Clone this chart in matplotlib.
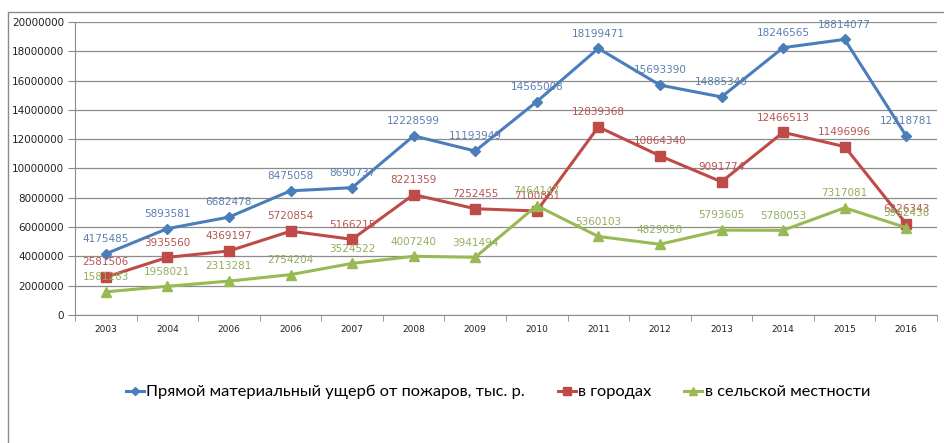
import numpy as np
import matplotlib
matplotlib.use("Agg")
import matplotlib.pyplot as plt
from matplotlib.lines import Line2D

# years as printed on the axis (2006 appears twice in the source table)
years = ["2003", "2004", "2006", "2006", "2007", "2008", "2009", "2010",
         "2011", "2012", "2013", "2014", "2015", "2016"]

total = [4175485, 5893581, 6682478, 8475058, 8690737, 12228599, 11193949,
         14565008, 18199471, 15693390, 14885340, 18246565, 18814077, 12218781]
cities = [2581506, 3935560, 4369197, 5720854, 5166215, 8221359, 7252455,
          7100861, 12839368, 10864340, 9091774, 12466513, 11496996, 6226343]
rural = [1581283, 1958021, 2313281, 2754204, 3524522, 4007240, 3941494,
         7464147, 5360103, 4829050, 5793605, 5780053, 7317081, 5962438]

series_names = ["Прямой материальный ущерб от пожаров, тыс. р.",
                "в городах", "в сельской местности"]

line_colors = ["#4a7ebb", "#be4b48", "#98b954"]
label_colors = ["#5b7fb0", "#b55552", "#93ad5c"]
markers = ["D", "s", "^"]
msizes = [5, 6.5, 7]

fig = plt.figure(figsize=(9.44, 4.43), dpi=100)
ax = fig.add_axes([75 / 944, 1 - 315 / 443, 862 / 944, 293 / 443])

x = np.arange(len(years))
for vals, name, c, lc, m, ms in zip([total, cities, rural], series_names,
                                     line_colors, label_colors, markers, msizes):
    ax.plot(x, vals, color=c, lw=2.2, marker=m, ms=ms, label=name, zorder=3)
    for xi, v in zip(x, vals):
        ax.annotate(str(v), (xi, v), xytext=(0, 7), textcoords="offset points",
                    ha="center", va="bottom", fontsize=7.5, color=lc,
                    family="DejaVu Sans", zorder=4)

ax.set_xlim(-0.5, len(years) - 0.5)
ax.set_ylim(0, 20000000)
ax.set_yticks(np.arange(0, 20000001, 2000000))
ax.set_yticklabels([str(int(v)) for v in np.arange(0, 20000001, 2000000)],
                   fontsize=7.5, color="#222222")
ax.set_xticks(x)
ax.set_xticklabels(years, fontsize=6.5, color="#222222")
ax.set_xticks(np.arange(-0.5, len(years), 1), minor=True)
ax.tick_params(axis="x", which="major", length=0, pad=7)
ax.tick_params(axis="x", which="minor", length=4, color="#888888", direction="out")
ax.tick_params(axis="y", length=5, color="#888888", pad=3)

ax.grid(axis="y", color="#8c8c8c", lw=0.9)
ax.set_axisbelow(True)
for s in ["top", "right"]:
    ax.spines[s].set_visible(False)
ax.spines["left"].set_color("#8c8c8c")
ax.spines["bottom"].set_color("#8c8c8c")

# outer chart frame (top and left edges)
fig.add_artist(Line2D([8 / 944, 8 / 944, 1.0], [0.0, 1 - 12 / 443, 1 - 12 / 443],
                      transform=fig.transFigure, color="#8a8a8a", lw=1))

fig.legend(loc="center", bbox_to_anchor=(498 / 944, 1 - 392 / 443), ncol=3,
           frameon=False, prop={"family": "Lato", "size": 11.8},
           handlelength=1.1, handletextpad=0.15, columnspacing=2.0,
           markerscale=0.8)

fig.savefig("out.png", dpi=100)
